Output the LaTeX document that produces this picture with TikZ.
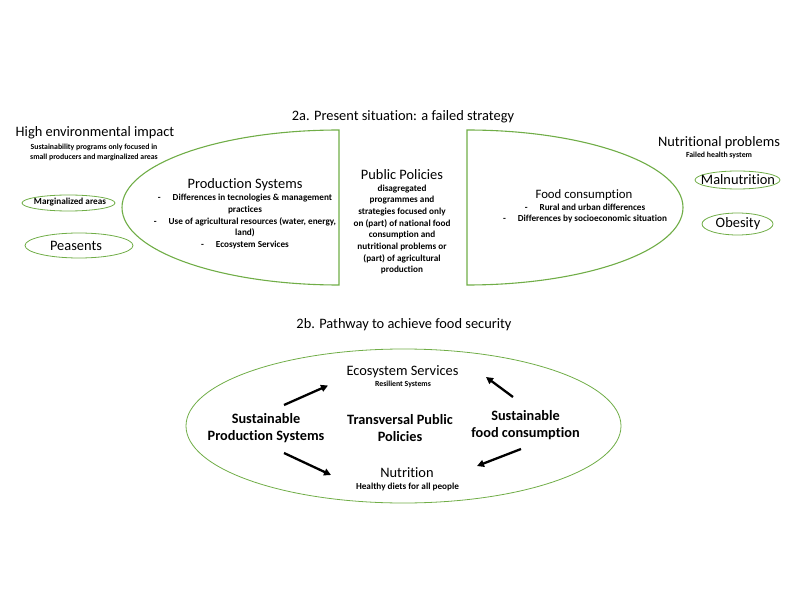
\documentclass[tikz,border=0pt]{standalone}
\usepackage{fontspec}
\setmainfont{Carlito}[Ligatures={NoCommon}]
\usepackage{xcolor}
\usepackage{tikz}
\usetikzlibrary{arrows.meta, positioning}

\definecolor{leafgreen}{RGB}{112,173,71}

\begin{document}
\begin{tikzpicture}[
    x=1pt, y=-1pt,
    >={Triangle[length=7pt, width=7pt]},
    shell/.style={draw=leafgreen, line width=1.1pt},
    oval/.style={draw=leafgreen, line width=0.8pt},
    flow/.style={->, line width=2.3pt, black},
    head/.style={font=\fontsize{14.4}{16}\selectfont},
    note/.style={font=\bfseries\fontsize{7.8}{10}\selectfont, align=center},
    body/.style={font=\bfseries\fontsize{9.2}{11.7}\selectfont, align=center},
    strong/.style={font=\bfseries\fontsize{14.3}{17}\selectfont, align=center}
]
\useasboundingbox (0,0) rectangle (792,612);

% === 2a. 现状 ===
\node[head] (titleA) at (403,117) {2a. Present situation: a failed strategy};

% 左半椭圆 / 右半椭圆
\draw[shell] (339,130) arc[start angle=270, end angle=90, x radius=217, y radius=77.5] -- cycle;
\draw[shell] (467,130) arc[start angle=-90, end angle=90, x radius=216, y radius=77.5] -- cycle;

% === Production Systems ===
\node[head] (prod) at (245,185) {Production Systems};
\node[body] (prodlist) at (245,221.5) {-\hspace{12pt}Differences in tecnologies \& management\\
    practices\\
    -\hspace{12pt}Use of agricultural resources (water, energy,\\
    land)\\
    -\hspace{12pt}Ecosystem Services};

% === Public Policies ===
\node[head] (policy) at (402,175) {Public Policies};
\node[body] (policytxt) at (402,229.5) {disagregated\\ programmes and\\ strategies focused only\\
    on (part) of national food\\ consumption and\\ nutritional problems or\\
    (part) of agricultural\\ production};

% === Food consumption ===
\node[head, font=\fontsize{12.8}{15}\selectfont] (food) at (584,195) {Food consumption};
\node[body] (foodlist) at (585,213.5) {-\hspace{12pt}Rural and urban differences\\
    -\hspace{12pt}Differences by socioeconomic situation};

% === 左侧：环境影响 ===
\node[head] (impact) at (95,133) {High environmental impact};
\node[note] (impactnote) at (94,152) {Sustainability programs only focused in\\ small producers and marginalized areas};
\draw[oval] (68.5,203) ellipse[x radius=46.5, y radius=8];
\node[body] (marg) at (70,202) {Marginalized areas};
\draw[oval] (79,245.5) ellipse[x radius=54, y radius=12.5];
\node[head] (peas) at (76,246) {Peasents};

% === 右侧：营养问题 ===
\node[head] (nutprob) at (719,143) {Nutritional problems};
\node[note] (health) at (719,155) {Failed health system};
\draw[oval] (737.5,180) ellipse[x radius=42.5, y radius=9];
\node[head] (maln) at (738,180) {Malnutrition};
\draw[oval] (737.5,224) ellipse[x radius=35.5, y radius=11];
\node[head] (obes) at (738,224) {Obesity};

% === 2b. 路径 ===
\node[head] (titleB) at (404,325) {2b. Pathway to achieve food security};
\draw[oval] (403.5,426) ellipse[x radius=217.5, y radius=77];

\node[head] (eco) at (402.5,372) {Ecosystem Services};
\node[note] (resil) at (403,384) {Resilient Systems};
\node[strong] (sps) at (266,428.5) {Sustainable\\ Production Systems};
\node[strong] (tpp) at (400,428.5) {Transversal Public\\ Policies};
\node[strong] (sfc) at (525.5,425) {Sustainable\\ food consumption};
\node[head] (nutr) at (407,473) {Nutrition};
\node[body] (diets) at (407.5,487) {Healthy diets for all people};

% 四个箭头
\coordinate (spsUp)   at (284,405);
\coordinate (ecoL)    at (328,385.5);
\coordinate (sfcUp)   at (513,397);
\coordinate (ecoR)    at (486,377);
\coordinate (spsDown) at (284,453);
\coordinate (nutrL)   at (331,475);
\coordinate (sfcDown) at (521,449);
\coordinate (nutrR)   at (477,466);

\draw[flow] (spsUp) -- (ecoL);
\draw[flow] (sfcUp) -- (ecoR);
\draw[flow] (spsDown) -- (nutrL);
\draw[flow] (sfcDown) -- (nutrR);

\end{tikzpicture}
\end{document}
